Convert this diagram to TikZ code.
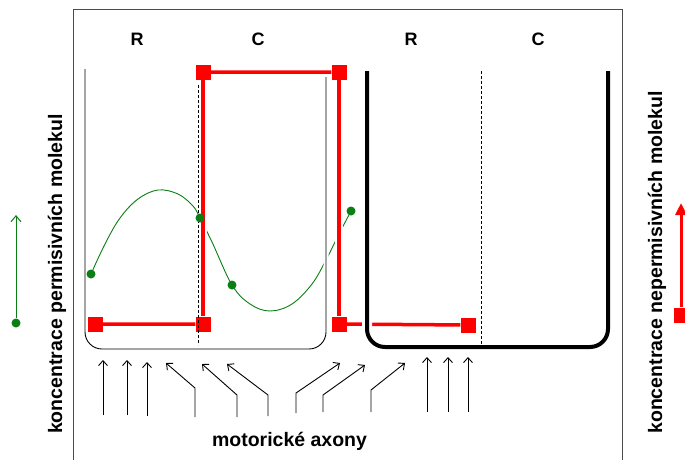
\documentclass[tikz,border=0pt]{standalone}
\usepackage{fontspec}
\setmainfont{Liberation Sans}
\usepackage{xcolor}
\usepackage{tikz}
\usetikzlibrary{arrows.meta}
\definecolor{leafgreen}{RGB}{10,128,20}

\begin{document}
\begin{tikzpicture}[x=1pt, y=-1pt,
    redsq/.style={fill=red, inner sep=0pt, minimum size=15pt},
    gdot/.style={circle, fill=leafgreen, inner sep=0pt, minimum size=9pt},
    redline/.style={draw=red, line width=3.5pt},
    knockout/.style={preaction={draw=white, line width=#1}},
    axon/.style={-{Straight Barb[length=5pt,width=9pt]}, line width=0.9pt},
    zone/.style={dash pattern=on 3pt off 2pt, line width=0.9pt},
    big/.style={font=\fontsize{19.5}{22}\selectfont\bfseries}]
  \useasboundingbox (0,0) rectangle (685,459);
  \fill[white] (0,0) rectangle (685,459);
  \draw[black!70, line width=1pt] (73,470) -- (73,9) -- (622,9) -- (622,470);
  \foreach \t/\x in {R/137, C/258, R/411, C/538}
    \node[anchor=base, font=\fontsize{18}{20}\selectfont\bfseries] (lab\x) at (\x,45) {\t};
  \draw[leafgreen, line width=0.9pt] plot[smooth, tension=0.6] coordinates {(91,274) (105,244)
    (120,218) (138,199) (158,190) (178,194) (193,206) (200,218) (212,242) (232,285) (250,304)
    (270,311) (292,304) (312,284) (326,260) (338,236) (351,211)};
  \draw[knockout=5pt, line width=0.9pt, rounded corners=17pt] (85,69) -- (85,349) -- (326,349) -- (326,77);
  \foreach \n/\x/\y in {a/203/72, b/339/72, c/95/324, d/203/324, e/339/324, f/468/325}
    \node[redsq] (\n) at (\x,\y) {};
  \draw[redline] (c) -- (d) (a) -- (b) (e) -- (f);
  \draw[redline, knockout=7.5pt] (a) -- (d) (b) -- (e);
  \draw[knockout=10pt, line width=4pt, rounded corners=18pt] (367,71) -- (367,347) -- (608,347) -- (608,71);
  \draw[zone] (198,85) -- (198,345);
  \draw[zone] (481,71) -- (481,345);
  \foreach \x/\y [count=\i] in {91/274, 200/218, 232/285, 351/211}
    \node[gdot] (g\i) at (\x,\y) {};
  \foreach \x/\b/\t [count=\i] in {103/415/360, 127/415/360, 147/416/362,
                                   427/412/357, 448/412/357, 468/412/357}{
    \coordinate (ax\i) at (\x,\b);
    \coordinate (at\i) at (\x,\t);
    \draw[axon] (ax\i) -- (at\i);}
  \foreach \x/\b/\m/\tx/\ty [count=\i] in {195/417/388/166/363, 237/417/395/202/364,
                                           268/416/395/227/364, 296/413/393/340/363,
                                           323/412/395/365/365, 371/412/390/405/363}{
    \coordinate (bx\i) at (\x,\b);
    \coordinate (bm\i) at (\x,\m);
    \coordinate (bt\i) at (\tx,\ty);
    \draw[axon] (bx\i) -- (bm\i) -- (bt\i);}
  \node[big, anchor=base] (motor) at (289.5,446) {motorické axony};
  \node[big, anchor=base, rotate=90] (perm) at (62,274) {koncentrace permisivních molekul};
  \node[big, anchor=base, rotate=90] (noperm) at (662,262.5) {koncentrace nepermisivních molekul};
  \node[gdot] (gleg) at (16,323) {};
  \coordinate (gtip) at (16,215);
  \draw[leafgreen, line width=1pt, -{Straight Barb[length=6pt,width=10pt]}] (gleg) -- (gtip);
  \node[redsq] (rleg) at (681,315) {};
  \coordinate (rtip) at (681,203);
  \draw[red, line width=3pt, -{Triangle[length=12pt,width=11pt]}] (rleg) -- (rtip);
\end{tikzpicture}
\end{document}
